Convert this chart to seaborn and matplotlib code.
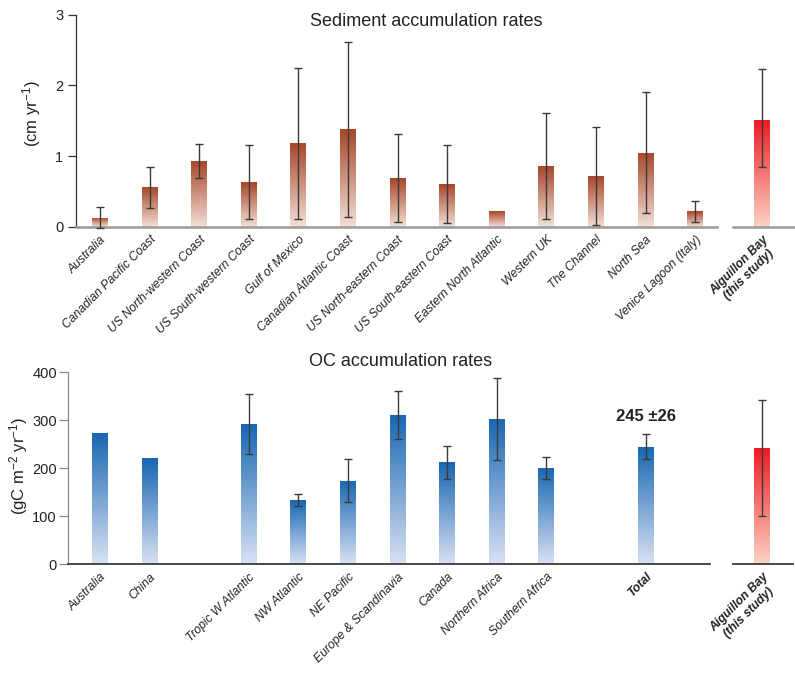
import numpy as np
import pandas as pd
import matplotlib
matplotlib.use("Agg")
import matplotlib.pyplot as plt
import seaborn as sns
from matplotlib.colors import LinearSegmentedColormap

# ---- data -------------------------------------------------------------
sed_sites = ["Australia", "Canadian Pacific Coast", "US North-western Coast",
             "US South-western Coast", "Gulf of Mexico", "Canadian Atlantic Coast",
             "US North-eastern Coast", "US South-eastern Coast", "Eastern North Atlantic",
             "Western UK", "The Channel", "North Sea", "Venice Lagoon (Italy)"]
sed_rate = [0.13, 0.56, 0.93, 0.63, 1.18, 1.38, 0.69, 0.60, 0.22, 0.86, 0.72, 1.05, 0.22]
sed_sd = [0.15, 0.29, 0.24, 0.52, 1.07, 1.24, 0.62, 0.55, np.nan, 0.75, 0.69, 0.85, 0.15]

oc_regions = ["Australia", "China", "Tropic W Atlantic", "NW Atlantic", "NE Pacific",
              "Europe & Scandinavia", "Canada", "Northern Africa", "Southern Africa", "Total"]
oc_rate = [274, 221, 292, 133, 174, 311, 212, 303, 201, 245]
oc_sd = [np.nan, np.nan, 62, 13, 45, 51, 34, 86, 23, 26]

study_label = "Aiguillon Bay\n(this study)"
study_sed_rate, study_sed_range = 1.51, (0.84, 2.23)
study_oc_rate, study_oc_range = 242, (100, 342)

# category order for the OC panel, with blank slots separating groups
oc_order = ["Australia", "China", " ", "Tropic W Atlantic", "NW Atlantic", "NE Pacific",
            "Europe & Scandinavia", "Canada", "Northern Africa", "Southern Africa",
            "  ", "Total"]

# ---- style ------------------------------------------------------------
sns.set_theme(style="ticks")
plt.rcParams["font.family"] = ["Liberation Sans", "DejaVu Sans"]
plt.rcParams["mathtext.fontset"] = "custom"
plt.rcParams["mathtext.rm"] = "Liberation Sans"
plt.rcParams["mathtext.it"] = "Liberation Sans:italic"

brown = LinearSegmentedColormap.from_list("brown", ["#f3e0d6", "#a8462a"])
blue = LinearSegmentedColormap.from_list("blue", ["#d9e1f3", "#1766b2"])
red = LinearSegmentedColormap.from_list("red", ["#fdd3c2", "#ec1c24"])

W, H = 795, 675
fig = plt.figure(figsize=(W / 100, H / 100), dpi=100)


def px_axes(x0, x1, ytop, ybot):
    return fig.add_axes([x0 / W, 1 - ybot / H, (x1 - x0) / W, (ybot - ytop) / H])


def gradient_bars(ax, cmap):
    grad = np.linspace(0, 1, 256).reshape(-1, 1)
    for p in ax.patches:
        x0, y0, w, h = p.get_x(), p.get_y(), p.get_width(), p.get_height()
        if not np.isfinite(h) or h == 0:
            continue
        im = ax.imshow(grad, extent=[x0, x0 + w, y0, y0 + h], origin="lower",
                       cmap=cmap, aspect="auto", zorder=2, interpolation="bilinear")
        im.set_clip_path(p)
        p.set_facecolor("none")
        p.set_edgecolor("none")


def errbars(ax, xs, ys, yerr):
    xs, ys = np.asarray(xs, float), np.asarray(ys, float)
    yerr = np.asarray(yerr, float)
    m = np.all(np.isfinite(np.atleast_2d(yerr)), axis=0)
    yerr = yerr[..., m]
    ax.errorbar(xs[m], ys[m], yerr=yerr, fmt="none", ecolor="#3a3a3a",
                elinewidth=1.0, capsize=3, capthick=1.0, zorder=4, clip_on=False)


def style_xlabels(ax, bold=()):
    ax.tick_params(axis="x", length=0, pad=5)
    for lbl in ax.get_xticklabels():
        lbl.set_rotation(45)
        lbl.set_ha("right")
        lbl.set_va("top")
        lbl.set_rotation_mode("anchor")
        lbl.set_fontstyle("italic")
        lbl.set_fontsize(8.7)
        lbl.set_color("#222222")
        if lbl.get_text() in bold:
            lbl.set_fontweight("bold")
            lbl.set_multialignment("center")


def base_axes(ax, ylim, yticks, spine_col, base_col, base_lw, show_y=True):
    ax.set_ylim(*ylim)
    ax.set_xlabel("")
    ax.set_ylabel("")
    for s in ["top", "right"]:
        ax.spines[s].set_visible(False)
    ax.spines["bottom"].set_color(base_col)
    ax.spines["bottom"].set_linewidth(base_lw)
    if show_y:
        ax.set_yticks(yticks)
        ax.spines["left"].set_color(spine_col)
        ax.spines["left"].set_linewidth(0.9)
        ax.tick_params(axis="y", length=6, width=0.9, color=spine_col,
                       labelsize=10.5, labelcolor="#222222", direction="out")
    else:
        ax.spines["left"].set_visible(False)
        ax.set_yticks([])
    ax.set_facecolor("none")


def range_err(mean, rng):
    return [[mean - rng[0]], [rng[1] - mean]]


# ---- sediment panel ---------------------------------------------------
ax1 = px_axes(76, 717, 14.7, 226.7)
sed_df = pd.DataFrame({"site": sed_sites, "rate": sed_rate})
sns.barplot(data=sed_df, x="site", y="rate", order=sed_sites, width=0.32,
            errorbar=None, color="#a8462a", ax=ax1)
gradient_bars(ax1, brown)
errbars(ax1, [sed_sites.index(s) for s in sed_sites], sed_rate, sed_sd)
base_axes(ax1, (0, 3), [0, 1, 2, 3], "#333333", "#9a9a9a", 1.8)
ax1.tick_params(axis="y", pad=3)
ax1.set_xlim(-0.484, 12.44)
style_xlabels(ax1)

ax1b = px_axes(733, 795, 14.7, 226.7)
sns.barplot(x=[study_label], y=[study_sed_rate], width=0.32, errorbar=None,
            color="#ec1c24", ax=ax1b)
gradient_bars(ax1b, red)
errbars(ax1b, [0], [study_sed_rate], range_err(study_sed_rate, study_sed_range))
base_axes(ax1b, (0, 3), [], None, "#9a9a9a", 1.8, show_y=False)
ax1b.set_xlim(-0.585, 0.665)
style_xlabels(ax1b, bold=(study_label,))

# ---- OC panel ---------------------------------------------------------
ax2 = px_axes(68, 710, 372.3, 564)
oc_df = pd.DataFrame({"region": oc_regions, "rate": oc_rate})
sns.barplot(data=oc_df, x="region", y="rate", order=oc_order, width=0.32,
            errorbar=None, color="#1766b2", ax=ax2)
gradient_bars(ax2, blue)
errbars(ax2, [oc_order.index(r) for r in oc_regions], oc_rate, oc_sd)
base_axes(ax2, (0, 400), [0, 100, 200, 300, 400], "#8a8a8a", "#3a3a3a", 1.3)
ax2.tick_params(axis="y", length=6.5, pad=1.5)
ax2.set_xlim(-0.645, 12.3)
style_xlabels(ax2, bold=("Total",))
i_total = oc_regions.index("Total")
ax2.text(oc_order.index("Total"), oc_rate[i_total] + oc_sd[i_total] + 22,
         f"{oc_rate[i_total]} \u00b1{oc_sd[i_total]}", ha="center", va="bottom",
         fontsize=12, fontweight="bold", color="#222222")

ax2b = px_axes(733, 793, 372.3, 564)
sns.barplot(x=[study_label], y=[study_oc_rate], width=0.32, errorbar=None,
            color="#ec1c24", ax=ax2b)
gradient_bars(ax2b, red)
errbars(ax2b, [0], [study_oc_rate], range_err(study_oc_rate, study_oc_range))
base_axes(ax2b, (0, 400), [], None, "#3a3a3a", 1.3, show_y=False)
ax2b.set_xlim(-0.585, 0.625)
style_xlabels(ax2b, bold=(study_label,))

# ---- titles and axis labels ----------------------------------------------
fig.text(426 / W, 1 - 21 / H, "Sediment accumulation rates", ha="center",
         va="center", fontsize=13, color="#222222")
fig.text(401 / W, 1 - 361 / H, "OC accumulation rates", ha="center",
         va="center", fontsize=13, color="#222222")
fig.text(32 / W, 1 - 114 / H, r"(cm yr$^{\mathregular{-1}}$)", rotation=90,
         ha="center", va="center", fontsize=12, color="#222222")
fig.text(19 / W, 1 - 466 / H, r"(gC m$^{\mathregular{-2}}$ yr$^{\mathregular{-1}}$)",
         rotation=90, ha="center", va="center", fontsize=12, color="#222222")

fig.savefig("out.png", dpi=100, facecolor="white")
